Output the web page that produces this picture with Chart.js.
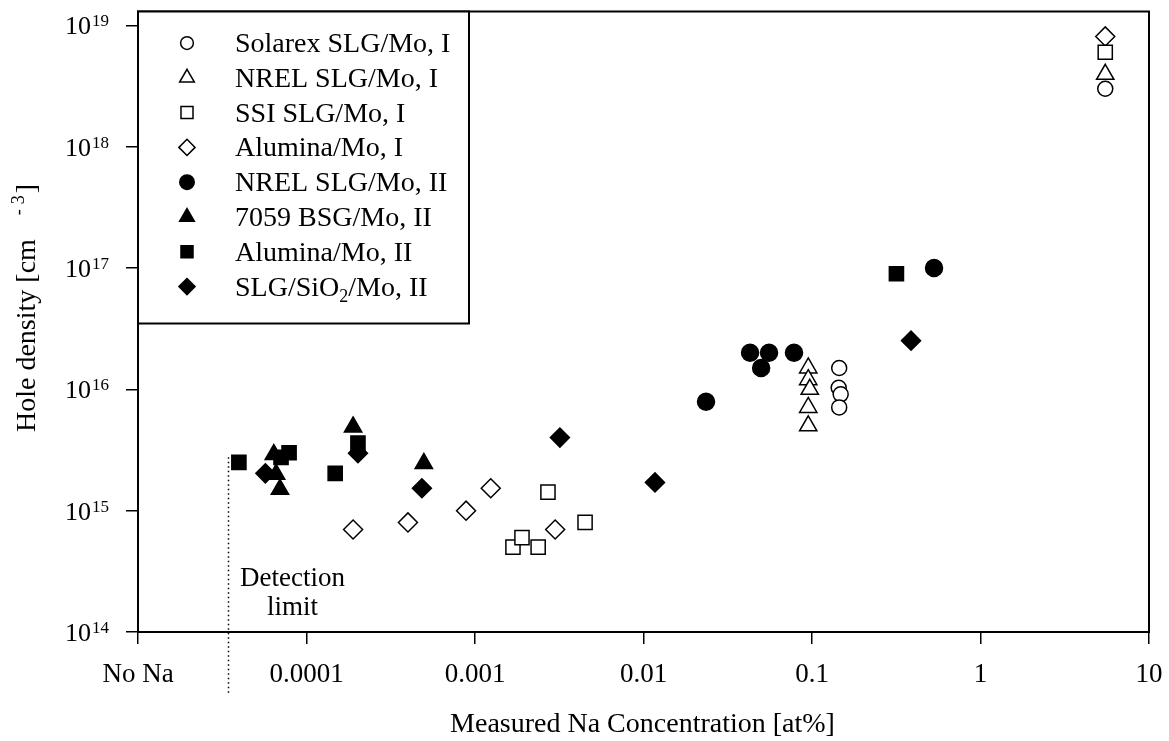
<!DOCTYPE html>
<html>
<head>
<meta charset="utf-8">
<title>Hole density vs Na concentration</title>
<script src="https://cdn.jsdelivr.net/npm/chart.js@4.4.0/dist/chart.umd.min.js"></script>
<style>
  html, body { margin: 0; padding: 0; background: #fff; }
  #wrap { width: 1169px; height: 741px; }
</style>
</head>
<body>
<div id="wrap"><canvas id="chart" width="1169" height="741"></canvas></div>
<script>
// ── Ejes ─────────────────────────────────────────────────────────
const X_TICKS  = [1e-5, 1e-4, 1e-3, 1e-2, 1e-1, 1, 10];
const X_LABELS = ["No Na", "0.0001", "0.001", "0.01", "0.1", "1", "10"];
const Y_TICKS  = [1e14, 1e15, 1e16, 1e17, 1e18, 1e19];
const Y_EXPS   = ["14", "15", "16", "17", "18", "19"];

// ── Series ───────────────────────────────────────────────────────
const NAMES = [
  "Solarex SLG/Mo, I", "NREL SLG/Mo, I", "SSI SLG/Mo, I", "Alumina/Mo, I",
  "NREL SLG/Mo, II", "7059 BSG/Mo, II", "Alumina/Mo, II", "SLG/SiO2/Mo, II"
];

const solarexX = [0.145, 0.144, 0.148, 0.145, 5.5];
const solarexY = [1.5e16, 1.03e16, 9.1e15, 7.1e15, 3.0e18];

const nrelIX = [0.095, 0.095, 0.097, 0.095, 0.095, 5.5];
const nrelIY = [1.5e16, 1.2e16, 1.0e16, 7.1e15, 5.0e15, 3.95e18];

const ssiX = [0.00168, 0.0019, 0.00237, 0.00271, 0.0045, 5.5];
const ssiY = [5.0e14, 6.0e14, 5.0e14, 1.42e15, 8.0e14, 6.0e18];

const aluIX = [1.89e-4, 4.0e-4, 8.85e-4, 1.24e-3, 2.99e-3, 5.5];
const aluIY = [7.0e14, 8.0e14, 1.0e15, 1.53e15, 7.0e14, 8.1e18];

const nrelIIX = [0.0235, 0.0429, 0.0499, 0.0556, 0.0782, 0.53];
const nrelIIY = [7.9e15, 2.0e16, 1.5e16, 2.0e16, 2.0e16, 1.0e17];

const bsgX = [6.4e-5, 6.6e-5, 6.96e-5, 1.89e-4, 4.97e-4];
const bsgY = [2.9e15, 2.0e15, 1.5e15, 4.9e15, 2.45e15];

const aluIIX = [3.97e-5, 7.06e-5, 7.88e-5, 1.48e-4, 2.02e-4, 0.317];
const aluIIY = [2.5e15, 2.75e15, 3.0e15, 2.03e15, 3.6e15, 8.96e16];

const sio2X = [5.7e-5, 2.02e-4, 4.84e-4, 3.19e-3, 0.0117, 0.387];
const sio2Y = [2.03e15, 2.97e15, 1.53e15, 4.0e15, 1.71e15, 2.52e16];

const SERIES_X = [solarexX, nrelIX, ssiX, aluIX, nrelIIX, bsgX, aluIIX, sio2X];
const SERIES_Y = [solarexY, nrelIY, ssiY, aluIY, nrelIIY, bsgY, aluIIY, sio2Y];

// Límite de detección
const DETECTION_X   = 3.42e-5;
const DETECTION_TOP = 2.75e15;

// ── Estilos de marcador ──────────────────────────────────────────
const STYLES = [
  { pointStyle: "circle",   filled: false, radius: 7.5 },
  { pointStyle: "triangle", filled: false, radius: 10  },
  { pointStyle: "rect",     filled: false, radius: 10  },
  { pointStyle: "rectRot",  filled: false, radius: 9.5 },
  { pointStyle: "circle",   filled: true,  radius: 8.5 },
  { pointStyle: "triangle", filled: true,  radius: 10  },
  { pointStyle: "rect",     filled: true,  radius: 10  },
  { pointStyle: "rectRot",  filled: true,  radius: 9.5 },
];

const FONT = "'Liberation Serif', 'Times New Roman', serif";
Chart.defaults.font.family = FONT;
Chart.defaults.color = "#000";

const datasets = NAMES.map((name, i) => ({
  label: name,
  data: SERIES_X[i].map((x, j) => ({ x, y: SERIES_Y[i][j] })),
  pointStyle: STYLES[i].pointStyle,
  pointRadius: STYLES[i].radius,
  pointHoverRadius: STYLES[i].radius,
  backgroundColor: STYLES[i].filled ? "#000" : "#fff",
  borderColor: "#000",
  borderWidth: 1.5,
  showLine: false,
}));

// ── Plugin: marco, etiquetas, leyenda ───────────────────────────
const decorPlugin = {
  id: "decor",
  afterDraw(chart) {
    const ctx = chart.ctx;
    const a = chart.chartArea;
    const xs = chart.scales.x;
    const ys = chart.scales.y;
    ctx.save();

    // marco completo
    ctx.strokeStyle = "#000";
    ctx.lineWidth = 2;
    ctx.strokeRect(a.left, a.top, a.right - a.left, a.bottom - a.top);

    // línea punteada del límite de detección
    const dx = Math.round(xs.getPixelForValue(DETECTION_X)) + 0.5;
    ctx.lineWidth = 1.5;
    ctx.setLineDash([1.5, 3]);
    ctx.beginPath();
    ctx.moveTo(dx, ys.getPixelForValue(DETECTION_TOP));
    ctx.lineTo(dx, a.bottom + 61);
    ctx.stroke();
    ctx.setLineDash([]);

    ctx.fillStyle = "#000";
    ctx.font = "27px " + FONT;
    ctx.textAlign = "center";
    ctx.textBaseline = "alphabetic";
    ctx.fillText("Detection", dx + 64, 586);
    ctx.fillText("limit", dx + 64, 615);

    // etiquetas del eje Y con exponente
    Y_TICKS.forEach((v, i) => {
      const py = ys.getPixelForValue(v);
      ctx.font = "26px " + FONT;
      ctx.textAlign = "right";
      ctx.fillText("10", 91, py + 9);
      ctx.font = "17px " + FONT;
      ctx.textAlign = "left";
      ctx.fillText(Y_EXPS[i], 92, py + 1);
    });

    // título eje X
    ctx.font = "28px " + FONT;
    ctx.textAlign = "center";
    ctx.fillText("Measured Na Concentration [at%]", (a.left + a.right) / 2 - 1, 732);

    // título eje Y (rotado)
    ctx.save();
    ctx.translate(35, 432);
    ctx.rotate(-Math.PI / 2);
    ctx.textAlign = "left";
    ctx.font = "28px " + FONT;
    const base = "Hole density [cm";
    ctx.fillText(base, 0, 0);
    let w = ctx.measureText(base).width + 24;
    ctx.font = "18px " + FONT;
    ctx.fillText("-", w, -11);
    w += ctx.measureText("-").width + 5;
    ctx.fillText("3", w, -11);
    w += ctx.measureText("3").width + 2;
    ctx.font = "28px " + FONT;
    ctx.fillText("]", w, 0);
    ctx.restore();

    // leyenda
    ctx.fillStyle = "#fff";
    ctx.fillRect(a.left, a.top, 331, 312);
    ctx.strokeStyle = "#000";
    ctx.lineWidth = 2;
    ctx.strokeRect(a.left, a.top, 331, 312);

    NAMES.forEach((name, i) => {
      const my = 43 + i * 34.8;
      const st = STYLES[i];
      ctx.fillStyle = st.filled ? "#000" : "#fff";
      ctx.strokeStyle = "#000";
      ctx.lineWidth = 1.5;
      Chart.helpers.drawPoint(ctx, {
        pointStyle: st.pointStyle, radius: st.radius * 0.85, borderWidth: 1.5, rotation: 0
      }, 187, my);

      ctx.fillStyle = "#000";
      ctx.font = "28px " + FONT;
      ctx.textAlign = "left";
      if (name.includes("SiO2")) {
        const [pre, post] = name.split("SiO2");
        let tx = 235;
        ctx.fillText(pre + "SiO", tx, my + 9);
        tx += ctx.measureText(pre + "SiO").width;
        ctx.font = "18px " + FONT;
        ctx.fillText("2", tx, my + 15);
        tx += ctx.measureText("2").width;
        ctx.font = "28px " + FONT;
        ctx.fillText(post, tx, my + 9);
      } else {
        ctx.fillText(name, 235, my + 9);
      }
    });

    ctx.restore();
  }
};

// ── Chart ────────────────────────────────────────────────────────
new Chart(document.getElementById("chart"), {
  type: "scatter",
  data: { datasets },
  options: {
    responsive: false,
    devicePixelRatio: 1,
    animation: false,
    layout: { padding: { left: 0, top: 10, right: 20, bottom: 0 } },
    plugins: {
      legend:  { display: false },
      tooltip: { enabled: false },
    },
    scales: {
      x: {
        type: "logarithmic",
        min: 1e-5,
        max: 10,
        afterBuildTicks: s => { s.ticks = X_TICKS.map(v => ({ value: v })); },
        afterFit: s => { s.height = 109; s.paddingLeft = 0; s.paddingRight = 0; },
        ticks: {
          autoSkip: false, maxRotation: 0, minRotation: 0, padding: 15,
          color: "#000", font: { size: 27 },
          callback: (v, i) => X_LABELS[i],
        },
        grid:   { display: true, drawOnChartArea: false, drawTicks: true, tickLength: 12, color: "#000", lineWidth: 1.5 },
        border: { display: true, color: "#000", width: 2 },
      },
      y: {
        type: "logarithmic",
        min: 1e14,
        max: 1.3e19,
        afterBuildTicks: s => { s.ticks = Y_TICKS.map(v => ({ value: v })); },
        afterFit: s => { s.width = 138; s.paddingTop = 0; s.paddingBottom = 0; },
        ticks:  { display: false },
        grid:   { display: true, drawOnChartArea: false, drawTicks: true, tickLength: 12, color: "#000", lineWidth: 1.5 },
        border: { display: true, color: "#000", width: 2 },
      },
    },
  },
  plugins: [decorPlugin],
});
</script>
</body>
</html>
